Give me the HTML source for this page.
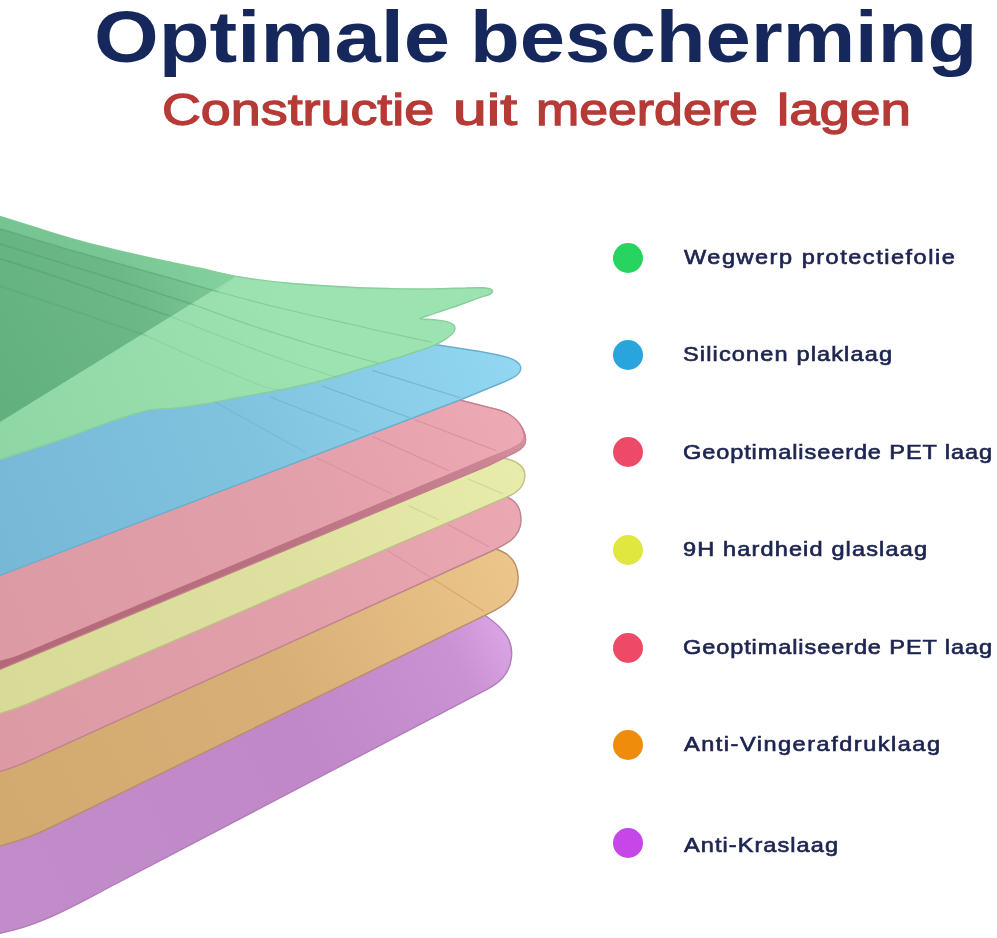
<!DOCTYPE html>
<html lang="nl">
<head>
<meta charset="utf-8">
<title>Optimale bescherming</title>
<style>
  html, body { margin: 0; padding: 0; background: #ffffff; }
  body { width: 997px; height: 938px; position: relative; overflow: hidden;
         font-family: "Liberation Sans", sans-serif; }
  #art { position: absolute; left: 0; top: 0; width: 997px; height: 938px; }
  .t { position: absolute; white-space: nowrap; transform-origin: 0 0; line-height: 1; }
  .tw { top: 0.2px; font-size: 73px; font-weight: bold; color: #16285b; }
  .sw { top: 86.5px; font-size: 45px; font-weight: normal; color: #b63a36;
        -webkit-text-stroke: 1.3px #b63a36; }
  .lg { left: 683px; transform: scale(1.12,1); font-size: 21px; font-weight: normal; color: #1d2450;
        -webkit-text-stroke: 0.65px #1d2450; }
  .dot { position: absolute; left: 613.1px; width: 30px; height: 30px; border-radius: 50%; }
</style>
</head>
<body>
<svg id="art" width="997" height="938" viewBox="0 0 997 938">
  <defs>
    <linearGradient id="gPurple" gradientUnits="userSpaceOnUse" x1="0" y1="900" x2="510" y2="640">
      <stop offset="0" stop-color="#c28bca"/><stop offset="0.6" stop-color="#c088c8"/><stop offset="0.9" stop-color="#ca91d3"/><stop offset="1" stop-color="#daa4e4"/>
    </linearGradient>
    <linearGradient id="gOrange" gradientUnits="userSpaceOnUse" x1="0" y1="820" x2="515" y2="570">
      <stop offset="0" stop-color="#d2aa70"/><stop offset="0.55" stop-color="#d8b077"/><stop offset="1" stop-color="#ecc58b"/>
    </linearGradient>
    <linearGradient id="gPink2" gradientUnits="userSpaceOnUse" x1="0" y1="750" x2="520" y2="515">
      <stop offset="0" stop-color="#dc9aa5"/><stop offset="0.55" stop-color="#e09fa9"/><stop offset="1" stop-color="#eba8b2"/>
    </linearGradient>
    <linearGradient id="gYellow" gradientUnits="userSpaceOnUse" x1="0" y1="700" x2="520" y2="475">
      <stop offset="0" stop-color="#d8da98"/><stop offset="0.55" stop-color="#dde09e"/><stop offset="1" stop-color="#e8ecaa"/>
    </linearGradient>
    <linearGradient id="gPink1" gradientUnits="userSpaceOnUse" x1="0" y1="640" x2="520" y2="430">
      <stop offset="0" stop-color="#dc9aa4"/><stop offset="0.55" stop-color="#e19fa9"/><stop offset="1" stop-color="#eda9b4"/>
    </linearGradient>
    <linearGradient id="gBlue" gradientUnits="userSpaceOnUse" x1="0" y1="560" x2="515" y2="365">
      <stop offset="0" stop-color="#76b8d6"/><stop offset="0.5" stop-color="#80c3df"/><stop offset="1" stop-color="#92d7f2"/>
    </linearGradient>
    <linearGradient id="gGreenD" gradientUnits="userSpaceOnUse" x1="0" y1="400" x2="240" y2="260">
      <stop offset="0" stop-color="#62b07e"/><stop offset="0.6" stop-color="#6cb987"/><stop offset="1" stop-color="#82cf9c"/>
    </linearGradient>
    <linearGradient id="gGreenL" gradientUnits="userSpaceOnUse" x1="0" y1="450" x2="300" y2="330">
      <stop offset="0" stop-color="#8fd6a5"/><stop offset="0.6" stop-color="#98deac"/><stop offset="1" stop-color="#9de3b1"/>
    </linearGradient>
    <linearGradient id="gSide" gradientUnits="userSpaceOnUse" x1="0" y1="665" x2="526" y2="445">
      <stop offset="0" stop-color="#b26878"/><stop offset="0.45" stop-color="#b96f80"/><stop offset="0.8" stop-color="#c47c8c"/><stop offset="0.93" stop-color="#cb8595"/><stop offset="1" stop-color="#d6919f"/>
    </linearGradient>
    <filter id="soft" x="-5%" y="-5%" width="110%" height="110%"><feGaussianBlur stdDeviation="0.55"/></filter>
  </defs>
  <rect width="997" height="938" fill="#ffffff"/>

  <!-- LAYERS (bottom to top) -->
  <g id="layers" stroke-linejoin="round">
  <!-- purple -->
  <path fill="url(#gPurple)" stroke="#b27bbb" stroke-width="1.4" d="M -40,970 L -40,420 L 440,592 L 486,616 C 506,630 513,642 511.5,657 C 510,674.5 498.5,683.5 485,690.4 L 105,889.5 C 70,908 35,928 -5,934 L -40,938 Z"/>
  <!-- orange -->
  <path fill="url(#gOrange)" stroke="#b98e68" stroke-width="1.4" d="M -40,880 L -40,380 L 450,530 L 501,551 C 512.5,556 518,566 518.2,578 C 518.4,598 503,606.5 488,613.8 L 65,820.5 C 45,830.5 22,842 -10,848 L -40,851 Z"/>
  <!-- pink 2 -->
  <path fill="url(#gPink2)" stroke="#bf8290" stroke-width="1.4" d="M -40,800 L -40,340 L 460,480 L 507,497 C 517,501 521.5,510 521,521.5 C 520,538 505,545 492,551 L 35,758.2 C 20,765 5,771 -10,774 L -40,779 Z"/>
  <!-- yellow -->
  <path fill="url(#gYellow)" stroke="#c0bd86" stroke-width="1.4" d="M -40,740 L -40,300 L 470,445 L 507,459 C 519,462 525.5,468 524.8,476.7 C 524,491 510,496 498,501 L 30,703 C 15,709.5 0,714 -15,717 L -40,722 Z"/>
  <!-- pink 1 side (dark) -->
  <path fill="url(#gSide)" stroke="#c47f8e" stroke-width="1.2" d="M -40,700 L -40,260 L 440,395 L 499,410 C 512,413.5 524,424 525.7,439 C 526.3,446 522,449.5 515,452.6 L 489,465.4 L 0,669.4 L -40,684 Z"/>
  <!-- pink 1 face -->
  <path fill="url(#gPink1)" d="M -40,690 L -40,260 L 440,395 L 499,410 C 511,413.5 521,422 523,434 C 524,441 519,444.5 511,448 L 489,457 L 19,655 C 10,658.5 0,661 -20,665 L -40,670 Z"/>
  <path fill="none" stroke="#c98493" stroke-width="1.3" d="M 440,395 L 499,410 C 512,413.5 524,424 525.7,439"/>
  <!-- blue -->
  <path fill="url(#gBlue)" stroke="#6aaecd" stroke-width="1.4" d="M -40,600 L -40,230 L 431.6,344 L 480,351.5 C 500,355 520,358.5 520.8,367.5 C 521.3,374 514,377.5 505,381.5 L 460,400 L 0,575.4 L -40,590.6 Z"/>
  <!-- green light -->
  <path fill="url(#gGreenL)" stroke="#86cf9d" stroke-width="1.4" d="M -40.0,203.0 C -33.3,205.2 -13.3,212.1 0.0,216.4 C 13.3,220.7 26.7,224.9 40.0,229.0 C 53.3,233.1 66.7,237.3 80.0,241.0 C 93.3,244.7 106.7,247.8 120.0,251.0 C 133.3,254.2 146.7,257.1 160.0,260.0 C 173.3,262.9 186.7,265.5 200.0,268.3 C 213.3,271.1 225.0,274.5 240.0,277.0 C 255.0,279.5 271.7,281.6 290.0,283.3 C 308.3,285.0 333.3,286.3 350.0,287.2 C 366.7,288.1 376.5,288.3 390.0,288.6 C 403.5,288.9 418.5,289.0 431.0,288.9 C 443.5,288.8 459.3,288.1 465.0,288.0 C 478,287.4 492,286.8 492.6,291 C 493,294 488,295 482.3,296.7 L 456.8,306 L 431,314.6 C 427,316 421,317.5 420,318.8 C 425,319.5 432,319.5 436.3,320 C 444,321 455,322 455,328.2 C 455,333 448,338 439.7,342.7 C 434,346 428,347.7 422.6,349.6 C 418.3,351.0 406.8,354.9 397.0,358.0 C 387.2,361.1 376.5,364.2 364.0,368.0 C 351.5,371.8 336.0,376.8 322.0,380.5 C 308.0,384.2 293.7,387.2 280.0,390.0 C 266.3,392.8 252.5,394.9 240.0,397.2 C 227.5,399.5 214.2,402.2 205.0,403.8 C 195.8,405.4 191.2,406.2 185.0,407.0 C 178.8,407.8 174.2,408.1 168.0,408.6 C 161.8,409.1 155.2,408.8 148.0,410.2 C 140.8,411.6 133.0,414.5 125.0,417.0 C 117.0,419.5 110.8,421.5 100.0,425.3 C 89.2,429.1 76.7,434.3 60.0,440.0 C 43.3,445.7 16.7,454.0 0.0,459.5 C -16.7,465.0 -33.3,470.8 -40.0,473.0 Z"/>
  <!-- green dark -->
  <path fill="url(#gGreenD)" d="M -40.0,203.0 C -33.3,205.2 -13.3,212.1 0.0,216.4 C 13.3,220.7 26.7,224.9 40.0,229.0 C 53.3,233.1 66.7,237.3 80.0,241.0 C 93.3,244.7 106.7,247.8 120.0,251.0 C 133.3,254.2 146.7,257.1 160.0,260.0 C 173.3,262.9 187.3,265.6 200.0,268.3 C 212.7,271.0 230.0,275.0 236.0,276.3 L 0,422 L -40,446.5 Z"/>
  </g>
  <path d="M -40.0,203.0 C -33.3,205.2 -13.3,212.1 0.0,216.4 C 13.3,220.7 26.7,224.9 40.0,229.0 C 53.3,233.1 66.7,237.3 80.0,241.0 C 93.3,244.7 106.7,247.8 120.0,251.0 C 133.3,254.2 146.7,257.1 160.0,260.0 C 173.3,262.9 187.3,265.6 200.0,268.3 C 212.7,271.0 230.0,275.0 236.0,276.3 L 217,291.5 C 209.2,289.2 186.2,282.6 170.0,278.0 C 153.8,273.4 138.3,269.2 120.0,264.0 C 101.7,258.8 80.0,252.9 60.0,247.0 C 40.0,241.1 11.7,232.3 0.0,228.7 C -11.7,225.1 -8.3,226.0 -10.0,225.5 L -40,216 Z" fill="#8ad6a5" fill-opacity="0.45"/>
  <g id="details" fill="none" stroke-linecap="round" filter="url(#soft)">
    <g stroke="#4f9a6c" stroke-opacity="0.42" stroke-width="1.6">
      <path d="M -10.0,225.5 C -8.3,226.0 -11.7,225.1 0.0,228.7 C 11.7,232.3 40.0,241.1 60.0,247.0 C 80.0,252.9 101.7,258.8 120.0,264.0 C 138.3,269.2 153.8,273.4 170.0,278.0 C 186.2,282.6 209.2,289.2 217.0,291.5"/><path d="M -10.0,241.0 C -8.3,241.5 -11.7,240.4 0.0,244.0 C 11.7,247.6 40.0,256.3 60.0,262.5 C 80.0,268.7 97.8,274.0 120.0,281.0 C 142.2,288.0 180.8,300.6 193.0,304.5"/><path d="M -10.0,255.5 C -8.3,256.0 -11.7,254.9 0.0,258.7 C 11.7,262.4 40.0,271.3 60.0,278.0 C 80.0,284.7 101.8,292.7 120.0,299.0 C 138.2,305.3 161.2,313.2 169.5,316.0"/><path d="M -10.0,283.0 C -8.3,283.5 -11.7,282.2 0.0,286.0 C 11.7,289.8 35.7,297.7 60.0,306.0 C 84.3,314.3 131.7,330.7 146.0,335.6" stroke-opacity="0.3"/>
    </g>
    <g stroke="#6fbf8c" stroke-opacity="0.6" stroke-width="1.2">
      <path d="M 217.0,291.5 C 227.5,294.2 257.8,302.6 280.0,308.0 C 302.2,313.4 333.3,320.2 350.0,324.0 C 366.7,327.8 366.5,328.0 380.0,331.0 C 393.5,334.0 422.5,340.2 431.0,342.0"/><path d="M 193.0,304.5 C 202.5,307.9 230.5,318.4 250.0,325.0 C 269.5,331.6 293.3,338.9 310.0,344.0 C 326.7,349.1 338.7,352.3 350.0,355.5 C 361.3,358.7 373.3,361.8 378.0,363.0"/><path d="M 169.5,316.0 C 179.6,320.0 209.9,332.3 230.0,340.0 C 250.1,347.7 272.3,355.8 290.0,362.0 C 307.7,368.2 328.3,374.5 336.0,377.0" stroke-opacity="0.4"/><path d="M 146.0,335.6 C 155.0,339.7 181.0,351.8 200.0,360.0 C 219.0,368.2 246.7,380.0 260.0,385.0 C 273.3,390.0 276.7,389.2 280.0,390.0" stroke-opacity="0.3"/>
    </g>
    <!-- yellow lines -->
    <g stroke="#c3c684" stroke-opacity="0.6" stroke-width="1.1">
      <path d="M 468.7,479.3 L 502.8,493.8"/>
      <path d="M 409,505.8 L 438,519.4"/>
    </g>
    <!-- pink2 lines -->
    <g stroke="#c9818f" stroke-opacity="0.5" stroke-width="1.1">
      <path d="M 448,524.5 L 489,546.7"/>
    </g>
    <path d="M 387.7,550.6 L 432,578.4" stroke="#c9818f" stroke-opacity="0.5" stroke-width="1.1"/>
    <path d="M 432,578.4 L 483.6,611" stroke="#c4985c" stroke-opacity="0.6" stroke-width="1.1"/>
    <!-- blue lines -->
    <g stroke="#5d9fc0" stroke-opacity="0.5" stroke-width="1.1">
      <path d="M 372.7,370.6 L 459.7,397.5"/>
      <path d="M 322,386 L 409,417.5"/>
      <path d="M 270,397 L 358.6,431.5" stroke-opacity="0.4"/>
      <path d="M 215,402 L 305,452" stroke-opacity="0.3"/>
    </g>
    <!-- pink1 lines -->
    <g stroke="#c9818f" stroke-opacity="0.55" stroke-width="1.1">
      <path d="M 414.8,419.7 L 496,450.6"/>
      <path d="M 372.7,436.6 L 448.5,470.5"/>
      <path d="M 316.5,458 L 392,494" stroke-opacity="0.4"/>
    </g>
  </g>
</svg>

<div class="t tw" style="left:93.58px;transform:scale(1.1401,1)">Optimale</div>
<div class="t tw" style="left:469.53px;transform:scale(1.1166,1)">bescherming</div>
<div class="t sw" style="left:161.6px;transform:scale(1.196,1)">Constructie</div>
<div class="t sw" style="left:452.71px;transform:scale(1.3457,1)">uit</div>
<div class="t sw" style="left:536.1px;transform:scale(1.1521,1)">meerdere</div>
<div class="t sw" style="left:776.57px;transform:scale(1.217,1)">lagen</div>

<div class="dot" style="top:243px;background:#27d45f"></div>
<div class="dot" style="top:339.5px;background:#2aa4dc"></div>
<div class="dot" style="top:437.3px;background:#ee4a68"></div>
<div class="dot" style="top:535.3px;background:#e0e840"></div>
<div class="dot" style="top:632.7px;background:#ee4a68"></div>
<div class="dot" style="top:730.3px;background:#f08c0c"></div>
<div class="dot" style="top:827.5px;background:#c646e8"></div>

<div class="t lg" style="top:246px;left:684.0px;letter-spacing:1.36px">Wegwerp protectiefolie</div>
<div class="t lg" style="top:343px;left:683.0px;letter-spacing:1.02px">Siliconen plaklaag</div>
<div class="t lg" style="top:440.5px;left:683.0px;letter-spacing:0.81px">Geoptimaliseerde PET laag</div>
<div class="t lg" style="top:538px;left:683.0px;letter-spacing:1.02px">9H hardheid glaslaag</div>
<div class="t lg" style="top:635.7px;left:683.4px;letter-spacing:0.81px">Geoptimaliseerde PET laag</div>
<div class="t lg" style="top:732.8px;left:684.0px;letter-spacing:1.35px">Anti-Vingerafdruklaag</div>
<div class="t lg" style="top:834.2px;left:684.0px;letter-spacing:0.95px">Anti-Kraslaag</div>
</body>
</html>
